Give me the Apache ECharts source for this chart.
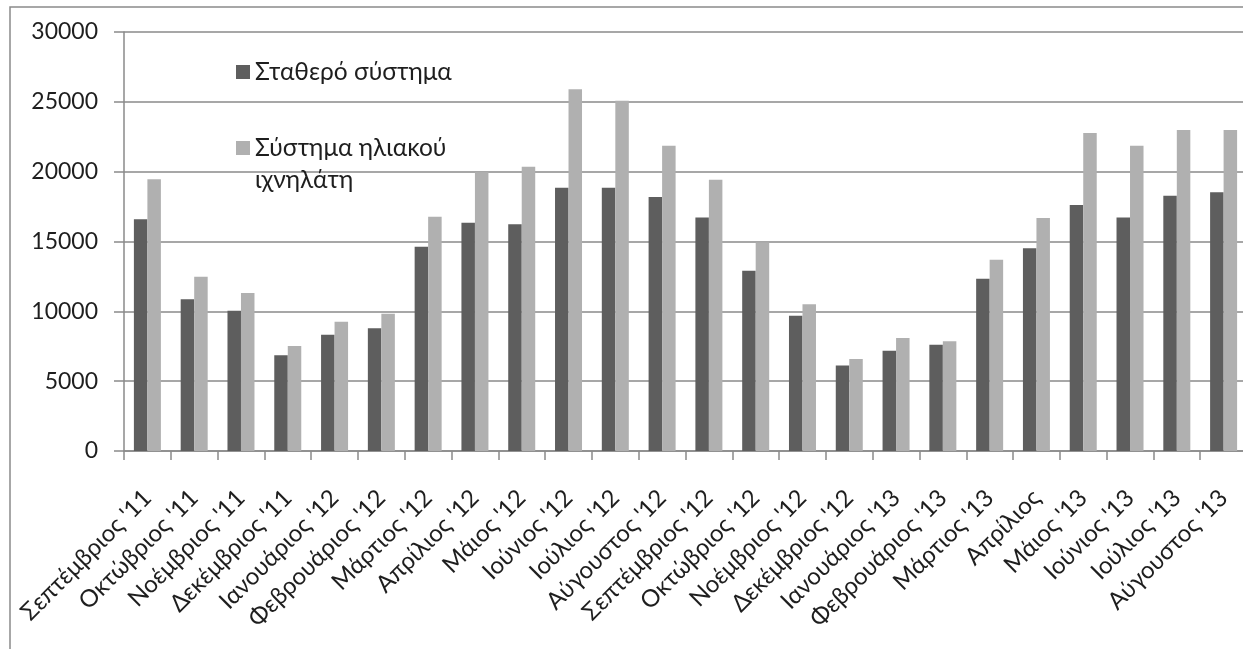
<!DOCTYPE html>
<html>
<head>
<meta charset="utf-8">
<script src="https://cdn.jsdelivr.net/npm/echarts@6/dist/echarts.min.js"></script>
<style>html,body{margin:0;padding:0;background:#fff;}#c{width:1243px;height:649px;}</style>
</head>
<body>
<div id="c"></div>
<script>
const categories = ["Σεπτέμβριος '11","Οκτώβριος '11","Νοέμβριος '11","Δεκέμβριος '11","Ιανουάριος '12","Φεβρουάριος '12","Μάρτιος '12","Απρίλιος '12","Μάιος '12","Ιούνιος '12","Ιούλιος '12","Αύγουστος '12","Σεπτέμβριος '12","Οκτώβριος '12","Νοέμβριος '12","Δεκέμβριος '12","Ιανουάριος '13","Φεβρουάριος '13","Μάρτιος '13","Απρίλιος","Μάιος '13","Ιούνιος '13","Ιούλιος '13","Αύγουστος '13"];
const fixedName = "Σταθερό σύστημα";
const trackerName = "Σύστημα ηλιακού ιχνηλάτη";
const fixedValues = [16590,10860,10050,6850,8330,8780,14630,16350,16230,18850,18850,18190,16710,12910,9690,6130,7180,7610,12340,14510,17610,16710,18280,18520];
const trackerValues = [19450,12480,11310,7520,9260,9830,16780,19950,20360,25900,25080,21860,19430,14920,10500,6590,8090,7850,13700,16680,22770,21860,22980,22980];
const yTicks = {min:0, max:30000, interval:5000};

const chart = echarts.init(document.getElementById('c'), null, {renderer:'canvas'});
const font = 'Lato';
chart.setOption({
  animation:false,
  backgroundColor:'#ffffff',
  graphic:[{type:'rect', shape:{x:10,y:7,width:1400,height:800}, style:{fill:'none', stroke:'#8a8a8a', lineWidth:1.5}, silent:true}],
  grid:{left:124, top:32, width:1123, height:419, containLabel:false, outerBoundsMode:'none'},
  legend:[
    {data:[fixedName], left:236, top:57, orient:'vertical', padding:0, itemWidth:14, itemHeight:14, icon:'rect',
     textStyle:{fontFamily:font, fontSize:24.5, color:'#1e1e1e', lineHeight:30}},
    {data:[trackerName], left:236, top:100, orient:'vertical', padding:0, itemWidth:14, itemHeight:14, icon:'rect',
     formatter:function(){return '\nΣύστημα ηλιακού\nιχνηλάτη';},
     textStyle:{fontFamily:font, fontSize:24.5, color:'#1e1e1e', lineHeight:32}}
  ],
  xAxis:{type:'category', data:categories, boundaryGap:true,
    axisLine:{lineStyle:{color:'#8a8a8a', width:1.5}},
    axisTick:{show:true, length:9, lineStyle:{color:'#8a8a8a', width:1.5}},
    axisLabel:{rotate:45, interval:0, margin:43, padding:[34,0,0,0], fontFamily:font, fontSize:24, color:'#1e1e1e'}},
  yAxis:{type:'value', min:yTicks.min, max:yTicks.max, interval:yTicks.interval,
    axisLine:{show:true, lineStyle:{color:'#8a8a8a', width:1.5}},
    axisTick:{show:true, length:10, lineStyle:{color:'#8a8a8a', width:1.5}},
    splitLine:{lineStyle:{color:'#8a8a8a', width:1.5}},
    axisLabel:{margin:26, fontFamily:font, fontSize:23, color:'#1e1e1e', formatter:function(v){return String(v);}}},
  series:[
    {name:fixedName, type:'bar', data:fixedValues, barWidth:13.5, barGap:'0%', itemStyle:{color:'#5e5e5e'}},
    {name:trackerName, type:'bar', data:trackerValues, barWidth:13.5, barGap:'0%', itemStyle:{color:'#b0b0b0'}}
  ]
});
</script>
</body>
</html>
